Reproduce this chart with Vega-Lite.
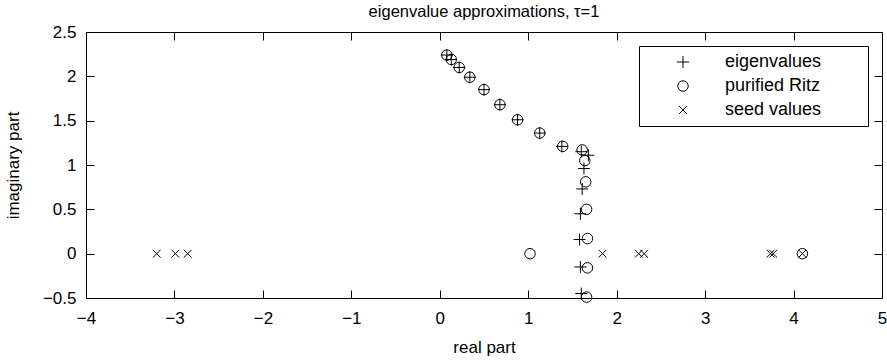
{
  "$schema": "https://vega.github.io/schema/vega-lite/v6.json",
  "width": 796,
  "height": 266,
  "autosize": "none",
  "padding": {"left": 86, "top": 32, "right": 5, "bottom": 62},
  "background": "white",
  "title": {"text": "eigenvalue approximations, τ=1", "fontSize": 16.5, "font": "Liberation Sans", "fontWeight": "normal", "color": "black", "offset": 3, "anchor": "middle"},
  "config": {
    "view": {"stroke": "black", "strokeWidth": 1},
    "font": "Liberation Sans",
    "axis": {"grid": false, "domain": false, "tickColor": "black", "tickSize": -8, "tickWidth": 1, "labelFont": "Liberation Sans", "labelFontSize": 17, "labelColor": "black", "titleFont": "Liberation Sans", "titleFontSize": 17, "titleFontWeight": "normal", "titleColor": "black"}
  },
  "data": {"values": [
    {"series": "eigenvalues", "re": 0.08, "im": 2.24},
    {"series": "eigenvalues", "re": 0.13, "im": 2.19},
    {"series": "eigenvalues", "re": 0.22, "im": 2.10},
    {"series": "eigenvalues", "re": 0.34, "im": 1.99},
    {"series": "eigenvalues", "re": 0.50, "im": 1.85},
    {"series": "eigenvalues", "re": 0.68, "im": 1.68},
    {"series": "eigenvalues", "re": 0.88, "im": 1.51},
    {"series": "eigenvalues", "re": 1.13, "im": 1.36},
    {"series": "eigenvalues", "re": 1.38, "im": 1.21},
    {"series": "eigenvalues", "re": 1.60, "im": 1.15},
    {"series": "eigenvalues", "re": 1.68, "im": 1.11},
    {"series": "eigenvalues", "re": 1.63, "im": 0.96},
    {"series": "eigenvalues", "re": 1.61, "im": 0.73},
    {"series": "eigenvalues", "re": 1.59, "im": 0.45},
    {"series": "eigenvalues", "re": 1.58, "im": 0.16},
    {"series": "eigenvalues", "re": 1.59, "im": -0.15},
    {"series": "eigenvalues", "re": 1.60, "im": -0.45},
    {"series": "purified Ritz", "re": 0.08, "im": 2.24},
    {"series": "purified Ritz", "re": 0.13, "im": 2.19},
    {"series": "purified Ritz", "re": 0.22, "im": 2.10},
    {"series": "purified Ritz", "re": 0.34, "im": 1.99},
    {"series": "purified Ritz", "re": 0.50, "im": 1.85},
    {"series": "purified Ritz", "re": 0.68, "im": 1.68},
    {"series": "purified Ritz", "re": 0.88, "im": 1.51},
    {"series": "purified Ritz", "re": 1.13, "im": 1.36},
    {"series": "purified Ritz", "re": 1.39, "im": 1.21},
    {"series": "purified Ritz", "re": 1.61, "im": 1.17},
    {"series": "purified Ritz", "re": 1.64, "im": 1.05},
    {"series": "purified Ritz", "re": 1.65, "im": 0.81},
    {"series": "purified Ritz", "re": 1.66, "im": 0.50},
    {"series": "purified Ritz", "re": 1.67, "im": 0.17},
    {"series": "purified Ritz", "re": 1.67, "im": -0.16},
    {"series": "purified Ritz", "re": 1.66, "im": -0.49},
    {"series": "purified Ritz", "re": 1.02, "im": 0},
    {"series": "purified Ritz", "re": 4.10, "im": 0},
    {"series": "seed values", "re": -3.20, "im": 0},
    {"series": "seed values", "re": -2.99, "im": 0},
    {"series": "seed values", "re": -2.85, "im": 0},
    {"series": "seed values", "re": 1.84, "im": 0},
    {"series": "seed values", "re": 2.25, "im": 0},
    {"series": "seed values", "re": 2.31, "im": 0},
    {"series": "seed values", "re": 3.74, "im": 0},
    {"series": "seed values", "re": 3.77, "im": 0},
    {"series": "seed values", "re": 4.10, "im": 0}
  ]},
  "layer": [
    {
      "mark": {"type": "point", "filled": false, "color": "black", "strokeWidth": 1, "opacity": 1, "clip": false},
      "encoding": {
        "x": {"field": "re", "type": "quantitative", "scale": {"domain": [-4, 5], "nice": false, "zero": false},
              "axis": {"orient": "bottom", "values": [-4, -3, -2, -1, 0, 1, 2, 3, 4, 5], "format": "~g", "labelPadding": 20, "title": "real part", "titlePadding": 13, "labelFlush": false}},
        "y": {"field": "im", "type": "quantitative", "scale": {"domain": [-0.5, 2.5], "nice": false, "zero": false},
              "axis": {"orient": "left", "values": [-0.5, 0, 0.5, 1, 1.5, 2, 2.5], "format": "~g", "labelPadding": 18, "title": "imaginary part", "titlePadding": 20, "labelFlush": false}},
        "shape": {"field": "series", "type": "nominal",
                  "scale": {"domain": ["eigenvalues", "purified Ritz", "seed values"],
                            "range": ["M29.3,0M-1,0L1,0M0,-1L0,1", "M29.3,0M0.875,0A0.875,0.875 0 1,1 -0.875,0A0.875,0.875 0 1,1 0.875,0Z", "M29.3,0M-0.65,-0.65L0.65,0.65M-0.65,0.65L0.65,-0.65"]},
                  "legend": {"orient": "top-right", "offset": 14, "title": null, "strokeColor": "black", "fillColor": "white", "padding": 7, "symbolOffset": 28, "labelOffset": 33, "labelFontSize": 18, "labelFont": "Liberation Sans", "labelColor": "black", "symbolStrokeColor": "black", "symbolStrokeWidth": 1, "symbolFillColor": "transparent", "symbolSize": 144, "rowPadding": 6}},
        "size": {"value": 144}
      }
    },
    {
      "mark": {"type": "point", "opacity": 0},
      "encoding": {
        "x": {"field": "re", "type": "quantitative", "axis": {"orient": "top", "values": [-4, -3, -2, -1, 0, 1, 2, 3, 4, 5], "labels": false, "title": null}},
        "y": {"field": "im", "type": "quantitative", "axis": {"orient": "right", "values": [-0.5, 0, 0.5, 1, 1.5, 2, 2.5], "labels": false, "title": null}}
      }
    }
  ]
}
